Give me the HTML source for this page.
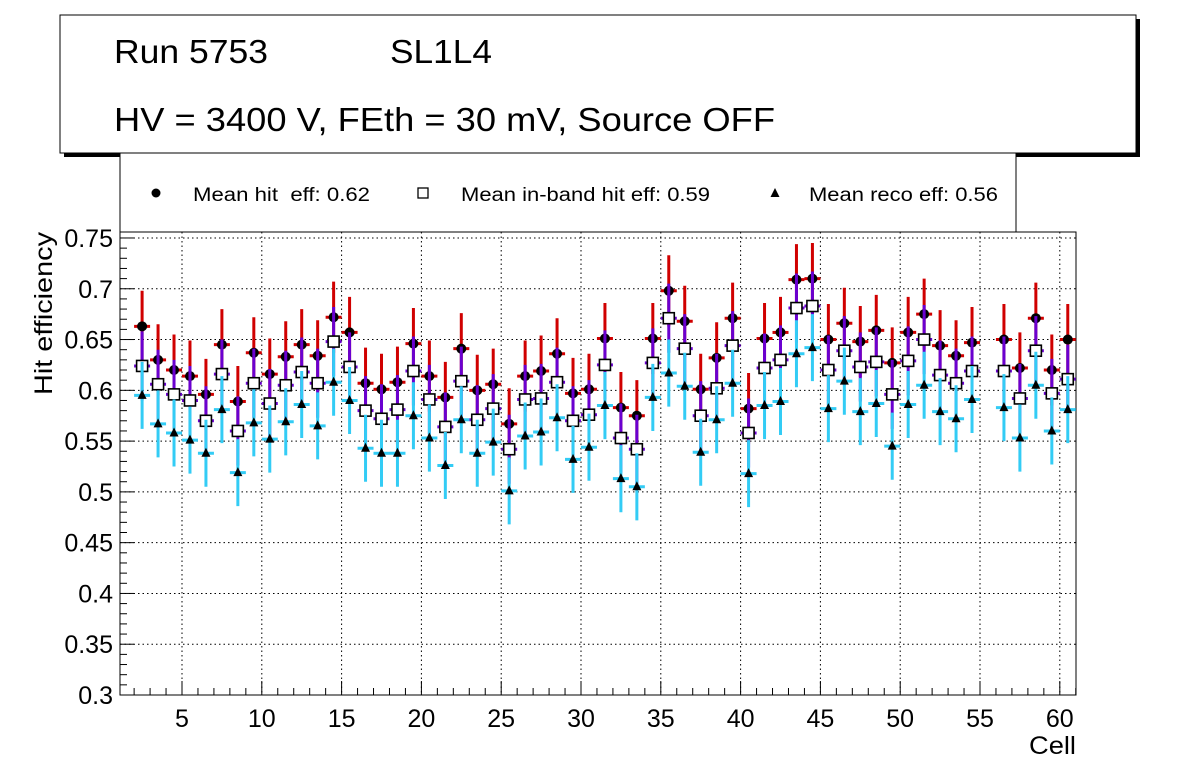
<!DOCTYPE html>
<html><head><meta charset="utf-8"><style>
body{margin:0;background:#fff;width:1196px;height:772px;overflow:hidden}
svg{font-family:"Liberation Sans",sans-serif}
</style></head><body>
<svg id="c" width="1196" height="772"></svg>
<script>
const cells=[2,3,4,5,6,7,8,9,10,11,12,13,14,15,16,17,18,19,20,21,22,23,24,25,26,27,28,29,30,31,32,33,34,35,36,37,38,39,40,41,42,43,44,45,46,47,48,49,50,51,52,53,54,56,57,58,59,60];
const hitEff=[0.663,0.630,0.620,0.614,0.596,0.645,0.589,0.637,0.616,0.633,0.645,0.634,0.672,0.657,0.607,0.601,0.608,0.646,0.614,0.593,0.641,0.600,0.606,0.567,0.614,0.619,0.636,0.597,0.601,0.651,0.583,0.575,0.651,0.698,0.668,0.601,0.632,0.671,0.582,0.651,0.657,0.709,0.710,0.650,0.666,0.648,0.659,0.627,0.657,0.675,0.644,0.634,0.647,0.650,0.622,0.671,0.620,0.650];
const inbandEff=[0.624,0.606,0.596,0.590,0.570,0.616,0.560,0.607,0.587,0.605,0.618,0.607,0.648,0.623,0.580,0.572,0.581,0.619,0.591,0.564,0.609,0.571,0.582,0.542,0.591,0.592,0.608,0.570,0.576,0.625,0.553,0.542,0.627,0.671,0.641,0.575,0.602,0.644,0.558,0.622,0.630,0.681,0.683,0.620,0.639,0.623,0.628,0.596,0.629,0.650,0.615,0.607,0.619,0.619,0.592,0.639,0.597,0.611];
const recoEff=[0.595,0.567,0.558,0.551,0.538,0.581,0.519,0.568,0.552,0.569,0.586,0.565,0.608,0.590,0.543,0.538,0.538,0.575,0.553,0.526,0.571,0.538,0.549,0.501,0.555,0.559,0.573,0.532,0.544,0.585,0.513,0.505,0.593,0.617,0.604,0.539,0.571,0.607,0.518,0.585,0.589,0.636,0.642,0.582,0.609,0.579,0.587,0.545,0.586,0.605,0.579,0.572,0.591,0.583,0.553,0.605,0.560,0.581];
const errHit=0.035, errInband=0.034, errReco=0.033;
const yTicks=[0.3,0.35,0.4,0.45,0.5,0.55,0.6,0.65,0.7,0.75];
const yTickLabels=["0.3","0.35","0.4","0.45","0.5","0.55","0.6","0.65","0.7","0.75"];
const xTicks=[5,10,15,20,25,30,35,40,45,50,55,60];

const L=120,R=1076,T=232,B=695;
const X=v=>182+(v-5)*15.96;
const Y=v=>695-(v-0.3)*1015.6;
const svg=document.getElementById('c');
const NS='http://www.w3.org/2000/svg';
function mk(t,a,p){const e=document.createElementNS(NS,t);for(const k in a)e.setAttribute(k,a[k]);(p||svg).appendChild(e);return e;}

// pave
let sh=mk('rect',{x:64,y:19,width:1076,height:138,fill:'#000'});


let pv=mk('rect',{x:60,y:15,width:1076,height:138,fill:'#fff',stroke:'#000','stroke-width':1});


let t1=mk('text',{x:114,y:63,'font-size':33,textLength:154,lengthAdjust:'spacingAndGlyphs'});t1.textContent='Run 5753';

let t2=mk('text',{x:390,y:63,'font-size':33,textLength:102,lengthAdjust:'spacingAndGlyphs'});t2.textContent='SL1L4';

let t3=mk('text',{x:114,y:131,'font-size':33,textLength:661,lengthAdjust:'spacingAndGlyphs'});t3.textContent='HV = 3400 V, FEth = 30 mV, Source OFF';


// legend
let lg=mk('rect',{x:120,y:153,width:896,height:79,fill:'#fff',stroke:'#000','stroke-width':1});

let lc=mk('circle',{cx:156,cy:193,r:4.5,fill:'#000'});

let l1=mk('text',{x:193,y:201,'font-size':19,textLength:177,lengthAdjust:'spacingAndGlyphs'});l1.textContent='Mean hit\u00a0 eff: 0.62';

let ls=mk('rect',{x:418,y:188,width:10,height:10,fill:'#fff',stroke:'#000','stroke-width':1.3});

let l2=mk('text',{x:461,y:201,'font-size':19,textLength:249,lengthAdjust:'spacingAndGlyphs'});l2.textContent='Mean in-band hit eff: 0.59';

let lt=mk('polygon',{points:'775,188 779.5,197 770.5,197',fill:'#000'});

let l3=mk('text',{x:809,y:201,'font-size':19,textLength:189,lengthAdjust:'spacingAndGlyphs'});l3.textContent='Mean reco eff: 0.56';


// frame & grid
let fr=mk('rect',{x:L,y:T,width:R-L,height:B-T,fill:'#fff',stroke:'#000'});

yTicks.forEach((v,i)=>{
  const y=Y(v);
  if(i>0){let g=mk('line',{x1:L,x2:R,y1:y,y2:y,stroke:'#000','stroke-dasharray':'1.5 3'});
  }
  let tk=mk('line',{x1:L,x2:L+14,y1:y,y2:y,stroke:'#000'});
  
  let tx=mk('text',{x:113,y:y+9,'font-size':25,'text-anchor':'end'});tx.textContent=yTickLabels[i];
  
  if(i<yTicks.length-1)for(let k=1;k<5;k++){const ym=Y(v+k*0.01);
    let m=mk('line',{x1:L,x2:L+7,y1:ym,y2:ym,stroke:'#000'});
    }
});
xTicks.forEach(v=>{
  const x=X(v);
  let g=mk('line',{x1:x,x2:x,y1:T,y2:B,stroke:'#000','stroke-dasharray':'1.5 3'});
  
  let tk=mk('line',{x1:x,x2:x,y1:B,y2:B-14,stroke:'#000'});
  
  let tx=mk('text',{x:x,y:727,'font-size':25,'text-anchor':'middle'});tx.textContent=String(v);
  
});
for(let v=2;v<=61;v++){const x=X(v);if(x<L||x>R||v%5==0)continue;
  let m=mk('line',{x1:x,x2:x,y1:B,y2:B-7,stroke:'#000'});
  }
let xt=mk('text',{x:1076,y:754,'font-size':25,'text-anchor':'end',textLength:47,lengthAdjust:'spacingAndGlyphs'});xt.textContent='Cell';

let yt=mk('text',{x:0,y:0,'font-size':25,'text-anchor':'end',textLength:163,lengthAdjust:'spacingAndGlyphs',transform:'translate(52,232) rotate(-90)'});yt.textContent='Hit efficiency';


// series
function series(vals,err,col,name,marker){
  const g=mk('g',{});
  
  
  cells.forEach((c,i)=>{
    const x=X(c+0.5),y=Y(vals[i]);
    mk('line',{x1:x,x2:x,y1:Y(vals[i]+err),y2:Y(vals[i]-err),stroke:col,'stroke-width':3},g);
    mk('line',{x1:x-8,x2:x+8,y1:y,y2:y,stroke:col,'stroke-width':3},g);
    let m;
    if(marker=='circle')m=mk('circle',{cx:x,cy:y,r:5,fill:'#000'},g);
    else if(marker=='square')m=mk('rect',{x:x-5.5,y:y-5.5,width:11,height:11,fill:'#fff',stroke:'#000','stroke-width':1.6},g);
    else m=mk('polygon',{points:`${x},${y-5.5} ${x+4.5},${y+3.5} ${x-4.5},${y+3.5}`,fill:'#000'},g);
    
    
  });
}
series(hitEff,errHit,'#d00000','hit','circle');
series(inbandEff,errInband,'#6a00d0','inband','square');
series(recoEff,errReco,'#33ccf5','reco','triangle');
</script>
</body></html>
